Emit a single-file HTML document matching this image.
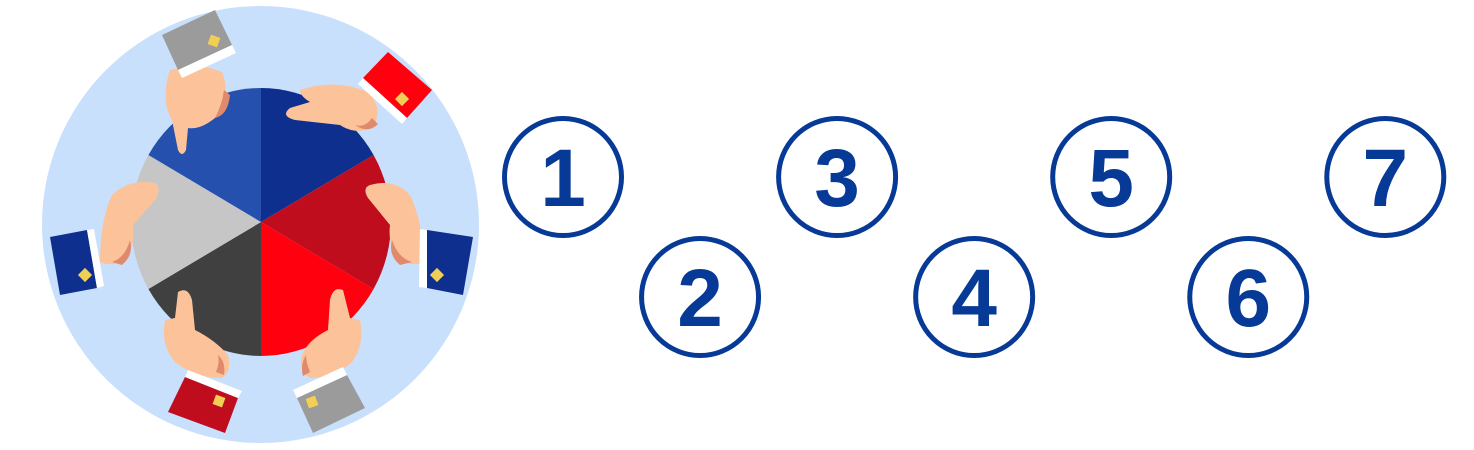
<!DOCTYPE html>
<html><head><meta charset="utf-8"><style>
html,body{margin:0;padding:0;background:#fff;width:1474px;height:450px;overflow:hidden}
svg{display:block}
</style></head><body>
<svg width="1474" height="450" viewBox="0 0 1474 450">
<circle cx="260.5" cy="224.5" r="218.5" fill="#c9e0fd"/>
<g id="pie"></g>
<g fill="#fcc39b">
  <!-- top hand -->
  <path d="M170,70 Q200,62 222,72 Q232,95 215,118 Q200,130 188,128 L186,150 Q182,158 178,150 L172,120 Q160,100 170,70Z"/>
  <path d="M215,118 Q222,105 224,90 L230,95 Q228,115 215,118Z" fill="#e0896b"/>
  <!-- top-right hand -->
  <path d="M300,90 Q335,78 368,92 Q385,110 372,128 Q355,135 340,125 L295,120 Q280,116 290,108 L310,102 Q300,96 300,90Z"/>
  <path d="M355,125 Q365,128 372,118 L378,124 Q368,134 355,125Z" fill="#e0896b"/>
  <!-- right hand -->
  <path d="M370,185 Q395,178 410,195 Q422,220 425,262 Q410,268 395,258 Q388,240 390,225 L368,198 Q362,188 370,185Z"/>
  <path d="M392,240 Q398,258 412,262 L400,265 Q388,255 392,240Z" fill="#e0896b"/>
  <!-- left hand -->
  <path d="M155,183 Q130,178 112,195 Q100,220 100,262 Q115,268 128,258 Q135,240 133,225 L155,200 Q162,188 155,183Z"/>
  <path d="M130,240 Q125,258 112,262 L122,265 Q134,255 130,240Z" fill="#e0896b"/>
  <!-- bottom-left hand -->
  <path d="M178,292 Q188,286 192,300 L195,330 Q215,340 228,355 Q232,372 222,378 Q195,378 175,362 Q160,345 165,320 L175,318Z"/>
  <path d="M218,355 Q226,362 224,375 L216,372 Q220,362 218,355Z" fill="#e0896b"/>
  <!-- bottom-right hand -->
  <path d="M343,290 Q333,286 330,300 L328,330 Q308,340 302,355 Q298,372 310,378 Q335,378 352,362 Q365,345 360,320 L350,318Z"/>
  <path d="M306,355 Q300,365 303,376 L310,372 Q306,362 306,355Z" fill="#e0896b"/>
</g>
<g>
  <polygon points="162,35 215,10 232,45 178,70" fill="#9b9b9b"/>
  <polygon points="178,70 232,45 236,53 182,78" fill="#fff"/>
  <polygon points="363,78 388,52 432,90 407,118" fill="#ff000e"/>
  <polygon points="358,84 363,78 407,118 402,124" fill="#fff"/>
  <polygon points="427,230 473,237 463,295 427,288" fill="#0e2f8e"/>
  <polygon points="420,229 427,230 427,288 419,287" fill="#fff"/>
  <polygon points="50,237 87,230 97,288 60,295" fill="#0e2f8e"/>
  <polygon points="87,230 94,229 104,286 97,288" fill="#fff"/>
  <polygon points="185,377 238,398 225,433 168,412" fill="#bf0d1e"/>
  <polygon points="188,370 242,391 238,398 185,377" fill="#fff"/>
  <polygon points="297,398 347,375 365,408 313,433" fill="#9b9b9b"/>
  <polygon points="293,390 343,367 347,375 297,398" fill="#fff"/>
</g>
<g fill="#f1cf55">
  <rect x="209" y="36" width="10" height="10" transform="rotate(20 214 41)"/>
  <rect x="397" y="94" width="10" height="10" transform="rotate(45 402 99)"/>
  <rect x="432" y="270" width="10" height="10" transform="rotate(45 437 275)"/>
  <rect x="80" y="270" width="10" height="10" transform="rotate(45 85 275)"/>
  <rect x="214" y="396" width="10" height="10" transform="rotate(20 219 401)"/>
  <rect x="307" y="397" width="10" height="10" transform="rotate(-20 312 402)"/>
</g>
<g id="steps"></g>
</svg>
<script>
const sliceColors = ["#0e2f8e","#bf0d1e","#ff000e","#404040","#c6c6c6","#2550ad"];
const sliceValues = [1,1,1,1,1,1];
const stepLabels = ["1","2","3","4","5","6","7"];
const ns="http://www.w3.org/2000/svg";
const pie=document.getElementById('pie');
const cx=261,cy=222,rx=130,ry=134;
const total=sliceValues.reduce((a,b)=>a+b,0);
let a0=-Math.PI/2;
sliceValues.forEach((v,i)=>{
  const a1=a0+v/total*2*Math.PI;
  const x0=cx+rx*Math.cos(a0),y0=cy+ry*Math.sin(a0),x1=cx+rx*Math.cos(a1),y1=cy+ry*Math.sin(a1);
  const p=document.createElementNS(ns,'path');
  p.setAttribute('d',`M${cx},${cy} L${x0},${y0} A${rx},${ry} 0 ${a1-a0>Math.PI?1:0} 1 ${x1},${y1} Z`);
  p.setAttribute('fill',sliceColors[i%sliceColors.length]);
  
  
  pie.appendChild(p);
  a0=a1;
});
const steps=document.getElementById('steps');
stepLabels.forEach((t,i)=>{
  const x=563+i*137.05, y=(i%2===0)?177:297;
  const g=document.createElementNS(ns,'g');
  
  
  const c=document.createElementNS(ns,'circle');
  c.setAttribute('cx',x);c.setAttribute('cy',y);c.setAttribute('r',58.5);
  c.setAttribute('fill','none');c.setAttribute('stroke','#063a96');c.setAttribute('stroke-width',5);
  const tx=document.createElementNS(ns,'text');
  tx.setAttribute('x',x);tx.setAttribute('y',y+29);
  tx.setAttribute('text-anchor','middle');
  tx.setAttribute('font-family','Liberation Sans, Arial, sans-serif');
  tx.setAttribute('font-weight','bold');tx.setAttribute('font-size','82');
  tx.setAttribute('fill','#063a96');
  tx.textContent=t;
  g.appendChild(c);g.appendChild(tx);steps.appendChild(g);
});
</script>
</body></html>
